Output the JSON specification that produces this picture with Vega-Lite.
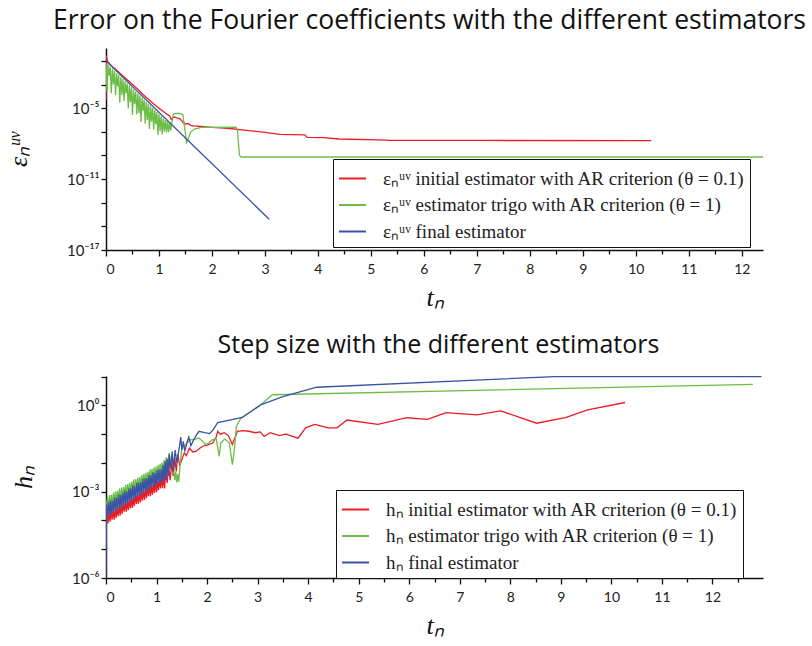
{
"$schema": "https://vega.github.io/schema/vega-lite/v6.json",
"background": "white",
"padding": {"left": 5, "top": 7, "right": 5, "bottom": 5},
"spacing": 126,
"bounds": "flush",
"config": {
  "view": {"stroke": null},
  "axis": {"grid": false, "domainColor": "#111", "domainWidth": 1.5, "tickColor": "#111", "tickWidth": 1.3, "labelFont": "Lato", "labelFontSize": 14, "labelColor": "#222", "titleFont": "Liberation Serif", "titleFontStyle": "italic", "titleFontWeight": "normal", "titleFontSize": 26, "titleColor": "#111"},
  "legend": {"labelFont": "Liberation Serif", "labelFontSize": 19, "labelColor": "#222", "strokeColor": "#111", "fillColor": "white", "padding": 5, "symbolType": "stroke", "symbolSize": 729, "symbolStrokeWidth": 2, "labelOffset": 16, "rowPadding": 1.5, "labelLimit": 600},
  "title": {"font": "Open Sans", "fontSize": 25, "fontWeight": "normal", "color": "#111", "anchor": "middle"}
},
"resolve": {"scale": {"color": "independent"}, "legend": {"color": "independent"}},
"datasets": {
"top": [
{"s":"initial","t":0,"v":5.0e-5},{"s":"initial","t":0.005,"v":0.251},{"s":"initial","t":0.03,"v":0.089},{"s":"initial","t":0.1,"v":0.0398},{"s":"initial","t":0.2,"v":0.0158},{"s":"initial","t":0.3,"v":6.3e-3},{"s":"initial","t":0.4,"v":2.5e-3},{"s":"initial","t":0.5,"v":1e-3},{"s":"initial","t":0.6,"v":4.0e-4},{"s":"initial","t":0.7,"v":1.41e-4},{"s":"initial","t":0.8,"v":5.6e-5},{"s":"initial","t":0.9,"v":2.24e-5},{"s":"initial","t":1.0,"v":1e-5},{"s":"initial","t":1.1,"v":4.5e-6},{"s":"initial","t":1.2,"v":2.24e-6},{"s":"initial","t":1.23,"v":1.12e-6},{"s":"initial","t":1.26,"v":1.58e-6},{"s":"initial","t":1.3,"v":1.78e-6},{"s":"initial","t":1.35,"v":1.41e-6},{"s":"initial","t":1.4,"v":1.26e-6},{"s":"initial","t":1.45,"v":6.3e-7},{"s":"initial","t":1.5,"v":4.5e-7},{"s":"initial","t":1.55,"v":5.0e-7},{"s":"initial","t":1.6,"v":3.5e-7},{"s":"initial","t":1.65,"v":3.2e-7},{"s":"initial","t":1.8,"v":2.8e-7},{"s":"initial","t":2.0,"v":2.4e-7},{"s":"initial","t":2.3,"v":2.0e-7},{"s":"initial","t":2.6,"v":1.41e-7},{"s":"initial","t":3.0,"v":8.9e-8},{"s":"initial","t":3.28,"v":6.0e-8},{"s":"initial","t":3.75,"v":5.6e-8},{"s":"initial","t":3.8,"v":3.4e-8},{"s":"initial","t":4.1,"v":3.2e-8},{"s":"initial","t":4.4,"v":2.45e-8},{"s":"initial","t":5.15,"v":2.1e-8},{"s":"initial","t":5.37,"v":1.86e-8},{"s":"initial","t":7.0,"v":1.86e-8},{"s":"initial","t":10.29,"v":1.78e-8},
{"s":"trigo","t":0,"v":0.063},{"s":"trigo","t":0.02,"v":2.5e-4},{"s":"trigo","t":0.04,"v":0.048},{"s":"trigo","t":0.06,"v":5.5e-3},{"s":"trigo","t":0.08,"v":0.0316},{"s":"trigo","t":0.1,"v":1.8e-4},{"s":"trigo","t":0.12,"v":0.0214},{"s":"trigo","t":0.14,"v":1e-3},{"s":"trigo","t":0.16,"v":0.0141},{"s":"trigo","t":0.18,"v":1.26e-4},{"s":"trigo","t":0.2,"v":9.5e-3},{"s":"trigo","t":0.22,"v":6.9e-4},{"s":"trigo","t":0.24,"v":6.3e-3},{"s":"trigo","t":0.26,"v":2.95e-5},{"s":"trigo","t":0.28,"v":4.3e-3},{"s":"trigo","t":0.3,"v":1.26e-4},{"s":"trigo","t":0.32,"v":2.9e-3},{"s":"trigo","t":0.34,"v":4.2e-5},{"s":"trigo","t":0.36,"v":1.9e-3},{"s":"trigo","t":0.38,"v":1.78e-4},{"s":"trigo","t":0.4,"v":1.29e-3},{"s":"trigo","t":0.42,"v":9.3e-6},{"s":"trigo","t":0.44,"v":8.7e-4},{"s":"trigo","t":0.46,"v":3.16e-5},{"s":"trigo","t":0.48,"v":5.75e-4},{"s":"trigo","t":0.5,"v":2.6e-6},{"s":"trigo","t":0.52,"v":3.9e-4},{"s":"trigo","t":0.54,"v":2.24e-5},{"s":"trigo","t":0.56,"v":2.57e-4},{"s":"trigo","t":0.58,"v":3.0e-6},{"s":"trigo","t":0.6,"v":1.74e-4},{"s":"trigo","t":0.62,"v":4.0e-6},{"s":"trigo","t":0.64,"v":1.17e-4},{"s":"trigo","t":0.66,"v":6.8e-7},{"s":"trigo","t":0.68,"v":7.8e-5},{"s":"trigo","t":0.7,"v":5.6e-6},{"s":"trigo","t":0.72,"v":5.2e-5},{"s":"trigo","t":0.74,"v":4.8e-7},{"s":"trigo","t":0.76,"v":3.5e-5},{"s":"trigo","t":0.78,"v":1.02e-6},{"s":"trigo","t":0.8,"v":2.34e-5},{"s":"trigo","t":0.82,"v":1.7e-7},{"s":"trigo","t":0.84,"v":1.58e-5},{"s":"trigo","t":0.86,"v":7.2e-7},{"s":"trigo","t":0.88,"v":1.05e-5},{"s":"trigo","t":0.9,"v":1.5e-7},{"s":"trigo","t":0.92,"v":7.1e-6},{"s":"trigo","t":0.94,"v":4.1e-7},{"s":"trigo","t":0.96,"v":4.7e-6},{"s":"trigo","t":0.98,"v":5.5e-8},{"s":"trigo","t":1.0,"v":3.16e-6},{"s":"trigo","t":1.02,"v":1.15e-7},{"s":"trigo","t":1.04,"v":2.14e-6},{"s":"trigo","t":1.06,"v":6.2e-8},{"s":"trigo","t":1.08,"v":1.41e-6},{"s":"trigo","t":1.1,"v":1.02e-7},{"s":"trigo","t":1.12,"v":1e-6},{"s":"trigo","t":1.14,"v":8.7e-8},{"s":"trigo","t":1.16,"v":7.9e-7},{"s":"trigo","t":1.18,"v":9.3e-8},{"s":"trigo","t":1.2,"v":6.3e-7},{"s":"trigo","t":1.22,"v":1.26e-7},{"s":"trigo","t":1.24,"v":5.0e-7},{"s":"trigo","t":1.27,"v":2.8e-6},{"s":"trigo","t":1.3,"v":3.55e-6},{"s":"trigo","t":1.4,"v":3.55e-6},{"s":"trigo","t":1.45,"v":2.8e-6},{"s":"trigo","t":1.48,"v":3.16e-7},{"s":"trigo","t":1.52,"v":1.26e-8},{"s":"trigo","t":1.55,"v":2.5e-8},{"s":"trigo","t":1.6,"v":1e-7},{"s":"trigo","t":1.68,"v":1.78e-7},{"s":"trigo","t":1.8,"v":2.4e-7},{"s":"trigo","t":2.45,"v":2.5e-7},{"s":"trigo","t":2.48,"v":1.58e-7},{"s":"trigo","t":2.52,"v":1e-9},{"s":"trigo","t":2.55,"v":7.4e-10},{"s":"trigo","t":12.4,"v":7.4e-10},
{"s":"final","t":0,"v":0.1},{"s":"final","t":1.5,"v":3.0e-8},{"s":"final","t":3.08,"v":4.0e-15}
],
"bot": [
{"s":"initial","t":0,"v":7.94e-5},{"s":"initial","t":0.02,"v":1.78e-4},{"s":"initial","t":0.04,"v":7.94e-5},{"s":"initial","t":0.06,"v":1.95e-4},{"s":"initial","t":0.08,"v":9.12e-5},{"s":"initial","t":0.1,"v":2.29e-4},{"s":"initial","t":0.12,"v":1.07e-4},{"s":"initial","t":0.14,"v":2.51e-4},{"s":"initial","t":0.16,"v":1.07e-4},{"s":"initial","t":0.18,"v":2.57e-4},{"s":"initial","t":0.2,"v":1.23e-4},{"s":"initial","t":0.22,"v":3.16e-4},{"s":"initial","t":0.24,"v":1.41e-4},{"s":"initial","t":0.26,"v":3.31e-4},{"s":"initial","t":0.28,"v":1.48e-4},{"s":"initial","t":0.3,"v":3.63e-4},{"s":"initial","t":0.32,"v":1.7e-4},{"s":"initial","t":0.34,"v":4.27e-4},{"s":"initial","t":0.36,"v":2.0e-4},{"s":"initial","t":0.38,"v":4.68e-4},{"s":"initial","t":0.4,"v":2.0e-4},{"s":"initial","t":0.42,"v":4.79e-4},{"s":"initial","t":0.44,"v":2.29e-4},{"s":"initial","t":0.46,"v":5.89e-4},{"s":"initial","t":0.48,"v":2.63e-4},{"s":"initial","t":0.5,"v":6.17e-4},{"s":"initial","t":0.52,"v":2.75e-4},{"s":"initial","t":0.54,"v":6.76e-4},{"s":"initial","t":0.56,"v":3.16e-4},{"s":"initial","t":0.58,"v":8.13e-4},{"s":"initial","t":0.6,"v":3.72e-4},{"s":"initial","t":0.62,"v":8.71e-4},{"s":"initial","t":0.64,"v":3.72e-4},{"s":"initial","t":0.66,"v":9.12e-4},{"s":"initial","t":0.68,"v":4.27e-4},{"s":"initial","t":0.7,"v":1.1e-3},{"s":"initial","t":0.72,"v":4.9e-4},{"s":"initial","t":0.74,"v":1.17e-3},{"s":"initial","t":0.76,"v":5.13e-4},{"s":"initial","t":0.78,"v":1.26e-3},{"s":"initial","t":0.8,"v":5.89e-4},{"s":"initial","t":0.82,"v":1.51e-3},{"s":"initial","t":0.84,"v":6.92e-4},{"s":"initial","t":0.86,"v":1.62e-3},{"s":"initial","t":0.88,"v":6.92e-4},{"s":"initial","t":0.9,"v":1.7e-3},{"s":"initial","t":0.92,"v":7.94e-4},{"s":"initial","t":0.94,"v":2.04e-3},{"s":"initial","t":0.96,"v":9.12e-4},{"s":"initial","t":0.98,"v":2.19e-3},{"s":"initial","t":1.0,"v":9.55e-4},{"s":"initial","t":1.02,"v":2.34e-3},{"s":"initial","t":1.04,"v":1.12e-3},{"s":"initial","t":1.06,"v":2.82e-3},{"s":"initial","t":1.08,"v":1.29e-3},{"s":"initial","t":1.1,"v":3.02e-3},{"s":"initial","t":1.12,"v":1.32e-3},{"s":"initial","t":1.14,"v":3.89e-3},{"s":"initial","t":1.16,"v":1.29e-3},{"s":"initial","t":1.18,"v":4.79e-3},{"s":"initial","t":1.21,"v":2.0e-3},{"s":"initial","t":1.24,"v":7.94e-3},{"s":"initial","t":1.27,"v":2.51e-3},{"s":"initial","t":1.3,"v":1.0e-2},{"s":"initial","t":1.33,"v":3.55e-3},{"s":"initial","t":1.36,"v":1.58e-2},{"s":"initial","t":1.39,"v":5.01e-3},{"s":"initial","t":1.42,"v":2.0e-2},{"s":"initial","t":1.46,"v":7.94e-3},{"s":"initial","t":1.51,"v":1.48e-2},{"s":"initial","t":1.55,"v":2.24e-2},{"s":"initial","t":1.59,"v":1.78e-2},{"s":"initial","t":1.65,"v":3.31e-2},{"s":"initial","t":1.72,"v":2.4e-2},{"s":"initial","t":1.78,"v":2.51e-2},{"s":"initial","t":1.85,"v":3.16e-2},{"s":"initial","t":1.91,"v":3.8e-2},{"s":"initial","t":2.0,"v":4.17e-2},{"s":"initial","t":2.11,"v":4.9e-2},{"s":"initial","t":2.18,"v":7.94e-2},{"s":"initial","t":2.21,"v":0.126},{"s":"initial","t":2.26,"v":0.1},{"s":"initial","t":2.34,"v":0.112},{"s":"initial","t":2.42,"v":8.91e-2},{"s":"initial","t":2.5,"v":4.37e-2},{"s":"initial","t":2.6,"v":0.126},{"s":"initial","t":2.7,"v":0.132},{"s":"initial","t":2.83,"v":0.126},{"s":"initial","t":2.95,"v":0.112},{"s":"initial","t":3.05,"v":0.12},{"s":"initial","t":3.13,"v":8.32e-2},{"s":"initial","t":3.25,"v":0.112},{"s":"initial","t":3.43,"v":8.91e-2},{"s":"initial","t":3.56,"v":0.1},{"s":"initial","t":3.8,"v":7.24e-2},{"s":"initial","t":3.95,"v":0.166},{"s":"initial","t":4.13,"v":0.219},{"s":"initial","t":4.4,"v":0.166},{"s":"initial","t":4.57,"v":0.166},{"s":"initial","t":4.77,"v":0.309},{"s":"initial","t":5.38,"v":0.219},{"s":"initial","t":5.95,"v":0.372},{"s":"initial","t":6.36,"v":0.324},{"s":"initial","t":6.73,"v":0.562},{"s":"initial","t":7.34,"v":0.468},{"s":"initial","t":7.81,"v":0.646},{"s":"initial","t":8.52,"v":0.24},{"s":"initial","t":9.09,"v":0.372},{"s":"initial","t":9.53,"v":0.692},{"s":"initial","t":10.27,"v":1.26},
{"s":"trigo","t":0.01,"v":3.16e-4},{"s":"trigo","t":0.03,"v":6.76e-4},{"s":"trigo","t":0.05,"v":2.51e-4},{"s":"trigo","t":0.07,"v":7.59e-4},{"s":"trigo","t":0.09,"v":3.02e-4},{"s":"trigo","t":0.11,"v":7.94e-4},{"s":"trigo","t":0.13,"v":3.09e-4},{"s":"trigo","t":0.15,"v":9.33e-4},{"s":"trigo","t":0.17,"v":3.89e-4},{"s":"trigo","t":0.19,"v":1.02e-3},{"s":"trigo","t":0.21,"v":3.89e-4},{"s":"trigo","t":0.23,"v":1.1e-3},{"s":"trigo","t":0.25,"v":4.47e-4},{"s":"trigo","t":0.27,"v":1.29e-3},{"s":"trigo","t":0.29,"v":4.68e-4},{"s":"trigo","t":0.31,"v":1.38e-3},{"s":"trigo","t":0.33,"v":5.75e-4},{"s":"trigo","t":0.35,"v":1.45e-3},{"s":"trigo","t":0.37,"v":5.75e-4},{"s":"trigo","t":0.39,"v":1.74e-3},{"s":"trigo","t":0.41,"v":6.76e-4},{"s":"trigo","t":0.43,"v":1.86e-3},{"s":"trigo","t":0.45,"v":6.92e-4},{"s":"trigo","t":0.47,"v":2.04e-3},{"s":"trigo","t":0.49,"v":8.51e-4},{"s":"trigo","t":0.51,"v":2.24e-3},{"s":"trigo","t":0.53,"v":8.71e-4},{"s":"trigo","t":0.55,"v":2.63e-3},{"s":"trigo","t":0.57,"v":1.0e-3},{"s":"trigo","t":0.59,"v":2.75e-3},{"s":"trigo","t":0.61,"v":1.02e-3},{"s":"trigo","t":0.63,"v":3.09e-3},{"s":"trigo","t":0.65,"v":1.29e-3},{"s":"trigo","t":0.67,"v":3.24e-3},{"s":"trigo","t":0.69,"v":1.29e-3},{"s":"trigo","t":0.71,"v":3.8e-3},{"s":"trigo","t":0.73,"v":1.51e-3},{"s":"trigo","t":0.75,"v":4.17e-3},{"s":"trigo","t":0.77,"v":1.55e-3},{"s":"trigo","t":0.79,"v":4.57e-3},{"s":"trigo","t":0.81,"v":1.91e-3},{"s":"trigo","t":0.83,"v":4.9e-3},{"s":"trigo","t":0.85,"v":1.95e-3},{"s":"trigo","t":0.87,"v":5.89e-3},{"s":"trigo","t":0.89,"v":2.24e-3},{"s":"trigo","t":0.91,"v":6.17e-3},{"s":"trigo","t":0.93,"v":2.29e-3},{"s":"trigo","t":0.95,"v":6.92e-3},{"s":"trigo","t":0.97,"v":2.88e-3},{"s":"trigo","t":0.99,"v":7.41e-3},{"s":"trigo","t":1.01,"v":2.88e-3},{"s":"trigo","t":1.03,"v":8.51e-3},{"s":"trigo","t":1.05,"v":3.31e-3},{"s":"trigo","t":1.07,"v":9.33e-3},{"s":"trigo","t":1.09,"v":3.47e-3},{"s":"trigo","t":1.11,"v":1.02e-2},{"s":"trigo","t":1.13,"v":4.27e-3},{"s":"trigo","t":1.15,"v":1.26e-2},{"s":"trigo","t":1.17,"v":3.72e-3},{"s":"trigo","t":1.19,"v":1.58e-2},{"s":"trigo","t":1.22,"v":6.31e-3},{"s":"trigo","t":1.25,"v":2.24e-2},{"s":"trigo","t":1.28,"v":1.0e-2},{"s":"trigo","t":1.31,"v":1.78e-2},{"s":"trigo","t":1.34,"v":5.01e-3},{"s":"trigo","t":1.36,"v":2.51e-3},{"s":"trigo","t":1.38,"v":5.01e-3},{"s":"trigo","t":1.4,"v":2.09e-3},{"s":"trigo","t":1.42,"v":3.98e-3},{"s":"trigo","t":1.44,"v":2.24e-3},{"s":"trigo","t":1.46,"v":6.31e-3},{"s":"trigo","t":1.5,"v":3.16e-2},{"s":"trigo","t":1.58,"v":4.37e-2},{"s":"trigo","t":1.66,"v":6.31e-2},{"s":"trigo","t":1.75,"v":6.61e-2},{"s":"trigo","t":1.84,"v":7.41e-2},{"s":"trigo","t":1.97,"v":4.37e-2},{"s":"trigo","t":2.04,"v":5.01e-2},{"s":"trigo","t":2.1,"v":6.31e-2},{"s":"trigo","t":2.18,"v":7.08e-2},{"s":"trigo","t":2.24,"v":1.7e-2},{"s":"trigo","t":2.27,"v":5.01e-2},{"s":"trigo","t":2.35,"v":6.76e-2},{"s":"trigo","t":2.44,"v":5.01e-2},{"s":"trigo","t":2.5,"v":8.71e-3},{"s":"trigo","t":2.54,"v":2.82e-2},{"s":"trigo","t":2.58,"v":0.186},{"s":"trigo","t":2.67,"v":0.363},{"s":"trigo","t":3.03,"v":0.933},{"s":"trigo","t":3.29,"v":2.34},{"s":"trigo","t":12.8,"v":5.37},
{"s":"final","t":0,"v":1e-6},{"s":"final","t":0.01,"v":3.63e-4},{"s":"final","t":0.03,"v":1.35e-4},{"s":"final","t":0.05,"v":4.27e-4},{"s":"final","t":0.07,"v":1.7e-4},{"s":"final","t":0.09,"v":5.0e-4},{"s":"final","t":0.11,"v":1.55e-4},{"s":"final","t":0.13,"v":4.79e-4},{"s":"final","t":0.15,"v":2.0e-4},{"s":"final","t":0.17,"v":6.31e-4},{"s":"final","t":0.19,"v":2.04e-4},{"s":"final","t":0.21,"v":6.17e-4},{"s":"final","t":0.23,"v":2.57e-4},{"s":"final","t":0.25,"v":7.94e-4},{"s":"final","t":0.27,"v":2.57e-4},{"s":"final","t":0.29,"v":7.59e-4},{"s":"final","t":0.31,"v":2.69e-4},{"s":"final","t":0.33,"v":8.91e-4},{"s":"final","t":0.35,"v":3.55e-4},{"s":"final","t":0.37,"v":1.1e-3},{"s":"final","t":0.39,"v":3.55e-4},{"s":"final","t":0.41,"v":1.02e-3},{"s":"final","t":0.43,"v":3.8e-4},{"s":"final","t":0.45,"v":1.29e-3},{"s":"final","t":0.47,"v":4.79e-4},{"s":"final","t":0.49,"v":1.32e-3},{"s":"final","t":0.51,"v":4.57e-4},{"s":"final","t":0.53,"v":1.62e-3},{"s":"final","t":0.55,"v":5.62e-4},{"s":"final","t":0.57,"v":1.55e-3},{"s":"final","t":0.59,"v":5.89e-4},{"s":"final","t":0.61,"v":2.04e-3},{"s":"final","t":0.63,"v":7.24e-4},{"s":"final","t":0.65,"v":2.04e-3},{"s":"final","t":0.67,"v":7.08e-4},{"s":"final","t":0.69,"v":2.14e-3},{"s":"final","t":0.71,"v":8.13e-4},{"s":"final","t":0.73,"v":2.75e-3},{"s":"final","t":0.75,"v":1.0e-3},{"s":"final","t":0.77,"v":2.88e-3},{"s":"final","t":0.79,"v":9.33e-4},{"s":"final","t":0.81,"v":2.95e-3},{"s":"final","t":0.83,"v":1.17e-3},{"s":"final","t":0.85,"v":3.72e-3},{"s":"final","t":0.87,"v":1.2e-3},{"s":"final","t":0.89,"v":3.8e-3},{"s":"final","t":0.91,"v":1.51e-3},{"s":"final","t":0.93,"v":4.68e-3},{"s":"final","t":0.95,"v":1.51e-3},{"s":"final","t":0.97,"v":4.47e-3},{"s":"final","t":0.99,"v":1.58e-3},{"s":"final","t":1.01,"v":5.5e-3},{"s":"final","t":1.03,"v":2.04e-3},{"s":"final","t":1.05,"v":5.89e-3},{"s":"final","t":1.07,"v":2.0e-3},{"s":"final","t":1.09,"v":6.03e-3},{"s":"final","t":1.11,"v":2.29e-3},{"s":"final","t":1.13,"v":8.51e-3},{"s":"final","t":1.15,"v":2.51e-3},{"s":"final","t":1.17,"v":1.17e-2},{"s":"final","t":1.19,"v":2.51e-3},{"s":"final","t":1.21,"v":1.41e-2},{"s":"final","t":1.23,"v":3.55e-3},{"s":"final","t":1.25,"v":2.0e-2},{"s":"final","t":1.27,"v":6.31e-3},{"s":"final","t":1.29,"v":1.12e-2},{"s":"final","t":1.31,"v":2.51e-2},{"s":"final","t":1.33,"v":5.01e-3},{"s":"final","t":1.35,"v":1.41e-2},{"s":"final","t":1.37,"v":2.82e-2},{"s":"final","t":1.4,"v":1.0e-2},{"s":"final","t":1.43,"v":2.0e-2},{"s":"final","t":1.46,"v":4.47e-2},{"s":"final","t":1.48,"v":7.94e-2},{"s":"final","t":1.5,"v":2.82e-2},{"s":"final","t":1.53,"v":5.62e-2},{"s":"final","t":1.56,"v":2.51e-2},{"s":"final","t":1.6,"v":5.01e-2},{"s":"final","t":1.64,"v":7.94e-2},{"s":"final","t":1.68,"v":3.98e-2},{"s":"final","t":1.72,"v":5.62e-2},{"s":"final","t":1.78,"v":8.91e-2},{"s":"final","t":1.84,"v":0.126},{"s":"final","t":1.95,"v":0.112},{"s":"final","t":2.05,"v":0.105},{"s":"final","t":2.12,"v":0.141},{"s":"final","t":2.21,"v":0.251},{"s":"final","t":2.7,"v":0.38},{"s":"final","t":3.06,"v":1.05},{"s":"final","t":3.5,"v":2.0},{"s":"final","t":4.17,"v":4.27},{"s":"final","t":8.89,"v":10.0},{"s":"final","t":12.97,"v":10.0}
]
},
"vconcat": [
{
  "title": {"text": "Error on the Fourier coefficients with the different estimators", "fontSize": 26.5, "offset": 14, "dx": -5},
  "width": 657, "height": 202,
  "data": {"name": "top"},
  "mark": {"type": "line", "strokeWidth": 1.3, "clip": true},
  "encoding": {
    "x": {"field": "t", "type": "quantitative", "scale": {"domain": [0, 12.4], "nice": false, "zero": false},
      "axis": {"title": "tₙ", "values": [0,0.5,1,1.5,2,2.5,3,3.5,4,4.5,5,5.5,6,6.5,7,7.5,8,8.5,9,9.5,10,10.5,11,11.5,12], "labelExpr": "datum.value % 1 == 0 ? format(datum.value, 'd') : ''", "tickSize": {"condition": {"test": "datum.value % 1 == 0", "value": 6}, "value": 4}, "labelPadding": 6, "titlePadding": 8}},
    "y": {"field": "v", "type": "quantitative", "scale": {"type": "log", "domain": [1e-17, 1.23], "nice": false},
      "axis": {"title": "εₙᵘᵛ", "values": [1e-17,1e-15,1e-13,1e-11,1e-9,1e-7,1e-5,1e-3,1e-1], "labelExpr": "datum.value == 1e-5 ? '10⁻⁵' : datum.value == 1e-11 ? '10⁻¹¹' : datum.value == 1e-17 ? '10⁻¹⁷' : ''", "tickSize": 5, "labelFontSize": 15, "titlePadding": 35}},
    "color": {"field": "s", "type": "nominal", "scale": {"domain": ["initial", "trigo", "final"], "range": ["#ec1c24", "#6cbd45", "#3a53a4"]},
      "legend": {"title": null, "orient": "none", "legendX": 227, "legendY": 111, "labelExpr": "datum.value == 'initial' ? 'εₙᵘᵛ initial estimator with AR criterion (θ = 0.1)' : datum.value == 'trigo' ? 'εₙᵘᵛ estimator trigo with AR criterion (θ = 1)' : 'εₙᵘᵛ final estimator'"}}
  }
},
{
  "title": {"text": "Step size with the different estimators", "offset": 18, "dx": 4},
  "width": 657, "height": 202,
  "data": {"name": "bot"},
  "mark": {"type": "line", "strokeWidth": 1.3, "clip": true},
  "encoding": {
    "x": {"field": "t", "type": "quantitative", "scale": {"domain": [0, 13], "nice": false, "zero": false},
      "axis": {"title": "tₙ", "values": [0,0.5,1,1.5,2,2.5,3,3.5,4,4.5,5,5.5,6,6.5,7,7.5,8,8.5,9,9.5,10,10.5,11,11.5,12,12.5], "labelExpr": "datum.value % 1 == 0 ? format(datum.value, 'd') : ''", "tickSize": {"condition": {"test": "datum.value % 1 == 0", "value": 6}, "value": 4}, "labelPadding": 6, "titlePadding": 8}},
    "y": {"field": "v", "type": "quantitative", "scale": {"type": "log", "domain": [1e-6, 10.5], "nice": false},
      "axis": {"title": "hₙ", "values": [1e-6,1e-5,1e-4,1e-3,1e-2,1e-1,1,10], "labelExpr": "datum.value == 1 ? '10⁰' : datum.value == 1e-3 ? '10⁻³' : datum.value == 1e-6 ? '10⁻⁶' : ''", "tickSize": 5, "labelFontSize": 15, "titlePadding": 35}},
    "color": {"field": "s", "type": "nominal", "scale": {"domain": ["initial", "trigo", "final"], "range": ["#ec1c24", "#6cbd45", "#3a53a4"]},
      "legend": {"title": null, "orient": "none", "legendX": 230, "legendY": 114, "labelExpr": "datum.value == 'initial' ? 'hₙ initial estimator with AR criterion (θ = 0.1)' : datum.value == 'trigo' ? 'hₙ estimator trigo with AR criterion (θ = 1)' : 'hₙ final estimator'"}}
  }
}
]
}
